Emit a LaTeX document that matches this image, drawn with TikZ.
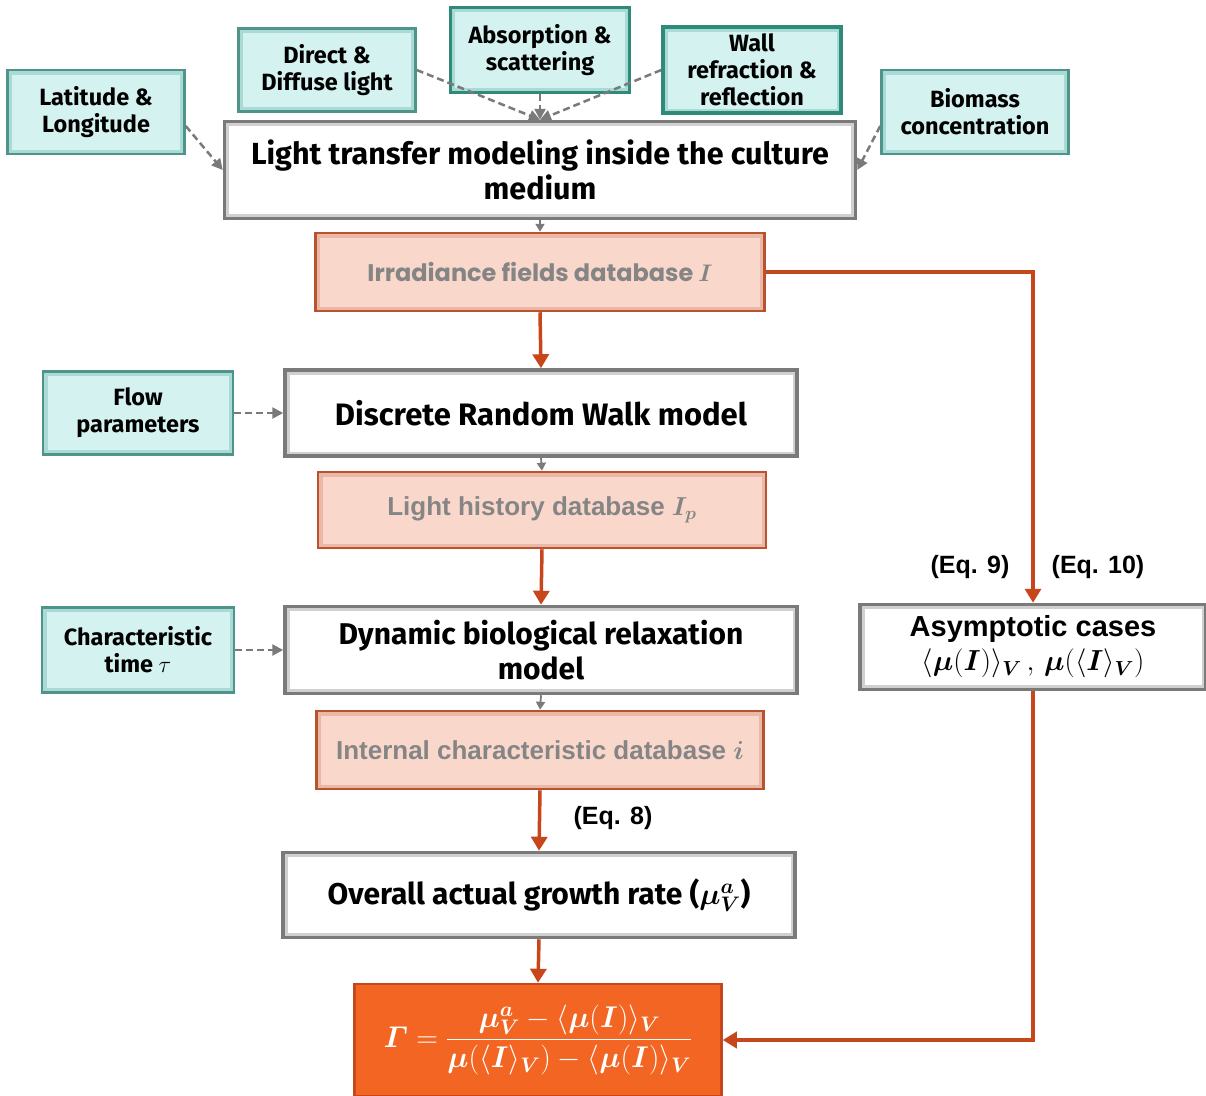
\RequirePackage{fix-cm}
\documentclass[tikz,border=0pt]{standalone}
\usepackage{amsmath}
\usepackage{bm}
\usepackage{fontspec}
\setmainfont{Fira Sans}
\newfontfamily\arialf{Liberation Sans}
\newfontfamily\popf{Poppins}
\usetikzlibrary{arrows.meta,calc}
\definecolor{tealfill}{HTML}{D3F2F0}
\definecolor{tealline}{HTML}{4E9488}
\definecolor{tealdark}{HTML}{2F8A78}
\definecolor{tealglow}{HTML}{A9DAD5}
\definecolor{pinkfill}{HTML}{F9D8CB}
\definecolor{pinkglow}{HTML}{E9B8A6}
\definecolor{pinkline}{HTML}{B9532F}
\definecolor{orfill}{HTML}{F26522}
\definecolor{orline}{HTML}{C8461B}
\definecolor{grayline}{HTML}{7A7A7A}
\definecolor{grayglow}{HTML}{D0D0D0}
\definecolor{txtgray}{HTML}{858585}
\tikzset{
  glow/.style={path picture={\draw[#1, line width=9pt] (path picture bounding box.south west) rectangle (path picture bounding box.north east);}},
  whitebox/.style={draw=grayline, line width=3.5pt, fill=white, rectangle, align=center, inner sep=0pt, glow=grayglow},
  tealbox/.style={draw=tealline, line width=2.5pt, fill=tealfill, rectangle, align=center, inner sep=0pt, glow=tealglow,
    font=\bfseries\fontsize{23.5}{27}\selectfont},
  pinkbox/.style={draw=pinkline, line width=2.5pt, fill=pinkfill, rectangle, align=center, inner sep=0pt, text=txtgray, glow=pinkglow},
  dasharrow/.style={draw=grayline, line width=2.5pt, dash pattern=on 7pt off 4pt, -{Triangle[length=11pt,width=11pt]}},
  grayarrow/.style={draw=grayline, line width=1.8pt, -{Triangle[length=8pt,width=9pt]}},
  orarrow/.style={draw=orline, line width=3.5pt, -{Triangle[length=14pt,width=16pt]}},
  eqlabel/.style={font=\arialf\bfseries\fontsize{25}{28}\selectfont, inner sep=0pt}
}
\begin{document}
\begin{tikzpicture}[x=1pt,y=-1pt]
\useasboundingbox (0,0) rectangle (1206,1095);
% input boxes
\node[tealbox, minimum width=177pt, minimum height=84pt] (lat) at (96,112) {Latitude \&\\Longitude};
\node[tealbox, minimum width=177pt, minimum height=83pt] (dd) at (327,70) {Direct \&\\Diffuse light};
\node[tealbox, draw=tealdark, line width=3.5pt, minimum width=179pt, minimum height=85pt] (abs) at (540,50) {Absorption \&\\scattering};
\node[tealbox, draw=tealdark, line width=3.5pt, minimum width=178pt, minimum height=86pt, font=\bfseries\fontsize{23.5}{27}\selectfont] (wall) at (752,70) {Wall\\refraction \&\\reflection};
\node[tealbox, minimum width=187pt, minimum height=84pt] (bio) at (975,112) {Biomass\\concentration};
% main chain
\node[whitebox, minimum width=631pt, minimum height=97pt, font=\bfseries\fontsize{30.5}{35}\selectfont] (lt) at (540,170) {Light transfer modeling inside the culture\\medium};
\node[pinkbox, minimum width=449pt, minimum height=78pt, font=\popf\bfseries\fontsize{24}{28}\selectfont] (irr) at (540,272) {Irradiance fields database $\bm{I}$};
\node[tealbox, minimum width=190pt, minimum height=83pt] (flow) at (138,413) {Flow\\parameters};
\node[whitebox, minimum width=512pt, minimum height=86pt, font=\bfseries\fontsize{31}{34}\selectfont] (drw) at (541,413) {Discrete Random Walk model};
\node[pinkbox, minimum width=448pt, minimum height=76pt, font=\arialf\bfseries\fontsize{26}{30}\selectfont] (lh) at (542,510) {Light history database $\bm{I_p}$};
\node[tealbox, minimum width=192pt, minimum height=85pt] (ct) at (138,650) {Characteristic\\time $\tau$};
\node[whitebox, minimum width=512pt, minimum height=87pt, font=\bfseries\fontsize{30}{35}\selectfont] (dyn) at (541,650) {Dynamic biological relaxation\\model};
\node[pinkbox, minimum width=447pt, minimum height=78pt, font=\arialf\bfseries\fontsize{26}{30}\selectfont] (icd) at (540,750) {Internal characteristic database $\bm{i}$};
\node[whitebox, minimum width=512pt, minimum height=85pt, font=\bfseries\fontsize{30}{33}\selectfont] (oag) at (539,895) {Overall actual growth rate ($\bm{\mu}_{\bm V}^{\bm a}$)};
\node[draw=orline, line width=2.5pt, fill=orfill, rectangle, inner sep=0pt, text=white, minimum width=367pt, minimum height=112pt, font=\fontsize{30}{34}\selectfont] (gam) at (538,1040)
  {$\bm{\varGamma} = \dfrac{\bm{\mu}_{\bm V}^{\bm a} - \langle\bm{\mu}(\bm{I})\rangle_{\bm V}}{\bm{\mu}(\langle\bm{I}\rangle_{\bm V}) - \langle\bm{\mu}(\bm{I})\rangle_{\bm V}}$};
\node[whitebox, minimum width=346pt, minimum height=85pt, font=\arialf\bfseries\fontsize{29}{34}\selectfont] (asym) at (1033,647)
  {Asymptotic cases\\$\langle\bm{\mu}(\bm{I})\rangle_{\bm V}\,,\,\bm{\mu}(\langle\bm{I}\rangle_{\bm V})$};
% labels
\node[eqlabel] (eq9) at (970,567) {(Eq. 9)};
\node[eqlabel] (eq10) at (1098,567) {(Eq. 10)};
\node[eqlabel] (eq8) at (613,818) {(Eq. 8)};
% dashed inputs
\draw[dasharrow] ($(lat.east)+(0,14)$) -- (lt.west);
\draw[dasharrow] (dd.east) -- (lt.north);
\draw[dasharrow] (abs.south) -- (lt.north);
\draw[dasharrow] (wall.west) -- (lt.north);
\draw[dasharrow] ($(bio.west)+(0,14)$) -- (lt.east);
\draw[dasharrow] (flow.east) -- (drw.west);
\draw[dasharrow] (ct.east) -- (dyn.west);
% gray small arrows
\draw[grayarrow] (lt.south) -- (irr.north);
\draw[grayarrow] (drw.south) -- (lh.north);
\draw[grayarrow] (dyn.south) -- (icd.north);
% orange arrows
\draw[orarrow] (irr.south) -- (drw.north);
\draw[orarrow] (lh.south) -- (dyn.north);
\draw[orarrow] (icd.south) -- (oag.north);
\draw[orarrow] (oag.south) -- (gam.north);
\draw[orarrow] (irr.east) -| (asym.north);
\draw[orarrow] (asym.south) |- (gam.east);
\end{tikzpicture}
\end{document}
